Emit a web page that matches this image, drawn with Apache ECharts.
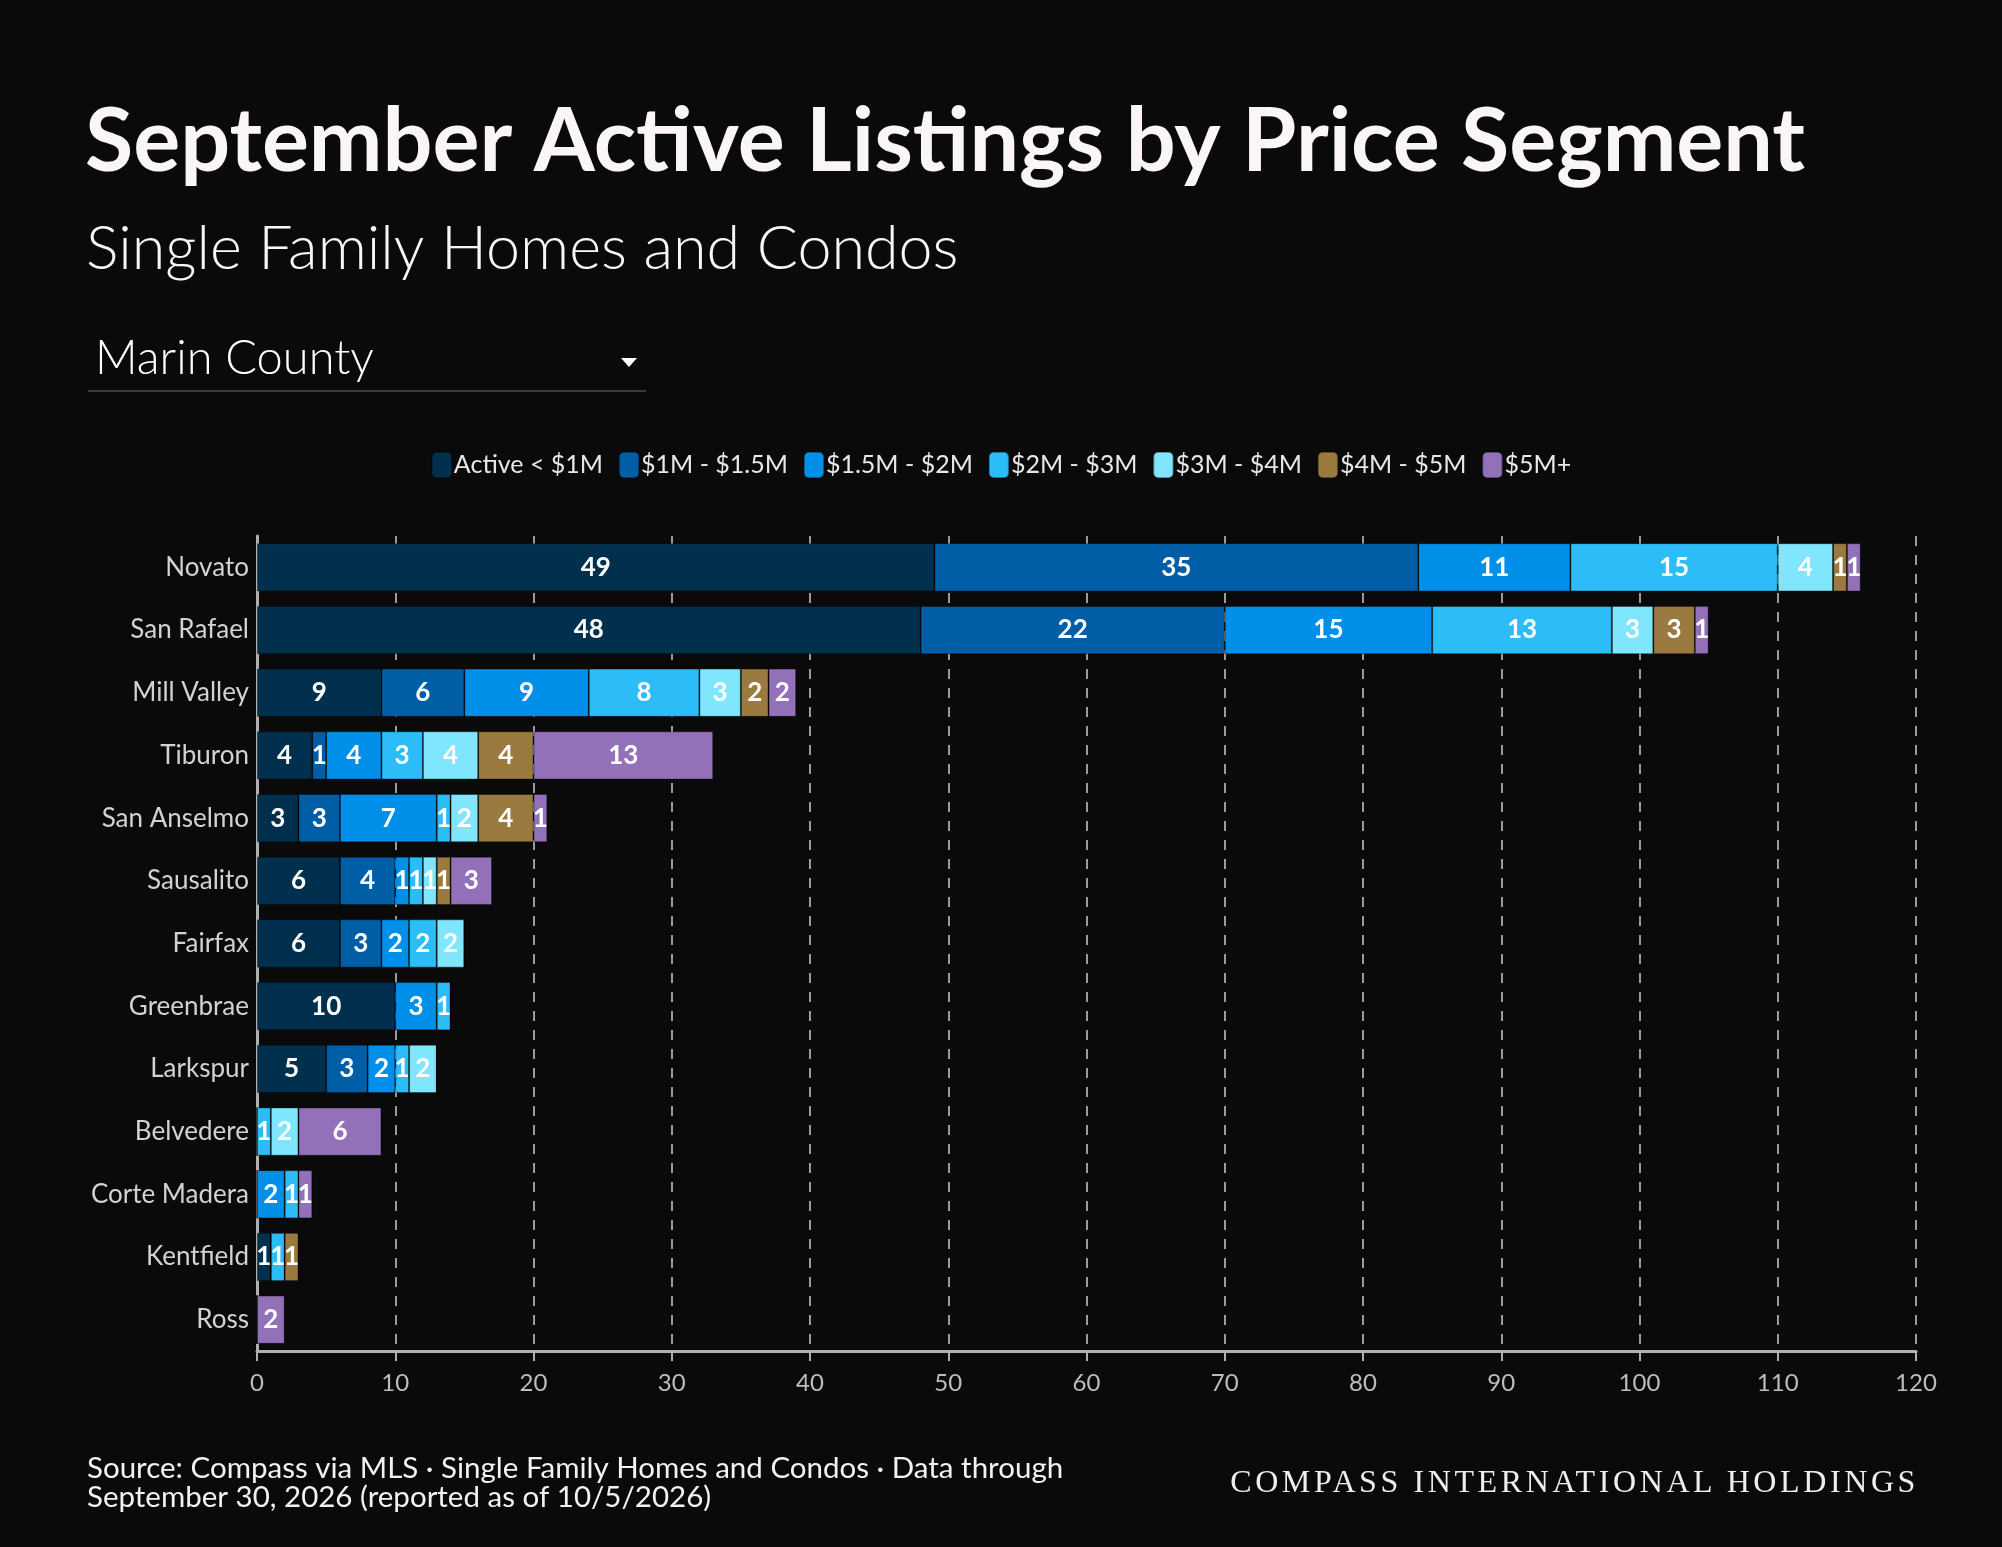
<!DOCTYPE html>
<html>
<head>
<meta charset="utf-8">
<script src="https://cdn.jsdelivr.net/npm/echarts@6/dist/echarts.min.js"></script>
<style>
  html, body { margin: 0; padding: 0; background: #0a0a0a; }
  #wrap { position: relative; width: 2002px; height: 1547px; }
  #chart { width: 2002px; height: 1547px; }
  #brand {
    position: absolute; right: 83px; top: 1463px;
    font-family: "Liberation Serif", serif; font-size: 32px;
    letter-spacing: 3.6px; color: #eeeeee; white-space: nowrap;
  }
</style>
</head>
<body>
<div id="wrap">
  <div id="chart"></div>
  <div id="brand">COMPASS INTERNATIONAL HOLDINGS</div>
</div>
<script>
// cities, top to bottom
var cities = ['Novato', 'San Rafael', 'Mill Valley', 'Tiburon', 'San Anselmo', 'Sausalito',
  'Fairfax', 'Greenbrae', 'Larkspur', 'Belvedere', 'Corte Madera', 'Kentfield', 'Ross'];

var segments = ['Active < $1M', '$1M - $1.5M', '$1.5M - $2M', '$2M - $3M', '$3M - $4M', '$4M - $5M', '$5M+'];
var segColors = ['#01304f', '#005ea7', '#008fe9', '#2cbdf8', '#80e6fd', '#9a7a3f', '#9371b9'];

// listings per city for each price segment
var under1M   = [49, 48, 9, 4, 3, 6, 6, 10, 5, 0, 0, 1, 0];
var m1to15    = [35, 22, 6, 1, 3, 4, 3, 0, 3, 0, 0, 0, 0];
var m15to2    = [11, 15, 9, 4, 7, 1, 2, 3, 2, 0, 2, 0, 0];
var m2to3     = [15, 13, 8, 3, 1, 1, 2, 1, 1, 1, 1, 1, 0];
var m3to4     = [4, 3, 3, 4, 2, 1, 2, 0, 2, 2, 0, 0, 0];
var m4to5     = [1, 3, 2, 4, 4, 1, 0, 0, 0, 0, 0, 1, 0];
var m5plus    = [1, 1, 2, 13, 1, 3, 0, 0, 0, 6, 1, 0, 2];

var xTicks = { min: 0, max: 120, interval: 10 };

var FONT = 'Lato';
var segData = [under1M, m1to15, m15to2, m2to3, m3to4, m4to5, m5plus];

var series = segments.map(function (name, i) {
  return {
    name: name,
    type: 'bar',
    stack: 'total',
    barWidth: '77%',
    data: segData[i],
    itemStyle: { color: segColors[i], borderColor: 'rgba(0,0,0,0.35)', borderWidth: 1 },
    label: {
      show: true,
      position: 'inside',
      color: '#ffffff',
      fontFamily: FONT,
      fontSize: 26,
      fontWeight: 'bold',
      formatter: function (p) { return p.value ? String(p.value) : ''; }
    },
    emphasis: { disabled: true }
  };
});

var chart = echarts.init(document.getElementById('chart'));
var option = {
  backgroundColor: '#0a0a0a',
  animation: false,
  textStyle: { fontFamily: FONT },
  legend: {
    data: segments,
    top: 446,
    left: 'center',
    itemWidth: 20,
    itemHeight: 26,
    itemGap: 15,
    icon: 'roundRect',
    textStyle: { color: '#e8e8e8', fontSize: 25, fontFamily: FONT, padding: [0, 0, 0, -3] }
  },
  grid: { left: 257, right: 86, top: 536, bottom: 196, containLabel: false },
  xAxis: {
    type: 'value',
    min: xTicks.min,
    max: xTicks.max,
    interval: xTicks.interval,
    axisLine: { show: true, lineStyle: { color: '#b0b0b0', width: 3 } },
    axisTick: { show: true, length: 10, lineStyle: { color: '#b0b0b0', width: 2 } },
    axisLabel: { color: '#bdbdbd', fontSize: 24, fontFamily: FONT, margin: 20 },
    splitLine: { show: true, lineStyle: { color: '#9a9a9a', width: 2, type: [10, 9] } }
  },
  yAxis: {
    type: 'category',
    data: cities,
    inverse: true,
    axisLine: { show: true, lineStyle: { color: '#b0b0b0', width: 3 } },
    axisTick: { show: false },
    axisLabel: { color: '#d2d2d2', fontSize: 26, fontFamily: FONT, margin: 8 }
  },
  series: series,
  graphic: [
    { type: 'text', left: 85, top: 99,
      style: { text: 'September Active Listings by Price Segment', fill: '#fbf6f6',
               font: 'bold 88px Lato' } },
    { type: 'text', left: 86, top: 219,
      style: { text: 'Single Family Homes and Condos', fill: '#fbf6f6',
               font: '300 61px Lato' } },
    { type: 'text', left: 95, top: 335,
      style: { text: 'Marin County', fill: '#ffffff', font: '300 47px Lato' } },
    { type: 'polygon', shape: { points: [[621, 358], [637, 358], [629, 367]] },
      style: { fill: '#ffffff' } },
    { type: 'line', shape: { x1: 88, y1: 391, x2: 646, y2: 391 },
      style: { stroke: '#3a3a3a', lineWidth: 2 } },
    { type: 'text', left: 87, top: 1453,
      style: { text: 'Source: Compass via MLS · Single Family Homes and Condos · Data through\nSeptember 30, 2026 (reported as of 10/5/2026)',
               fill: '#f2f2f2', font: '29.5px Lato', lineHeight: 29 } }
  ]
};
chart.setOption(option);
</script>
</body>
</html>
